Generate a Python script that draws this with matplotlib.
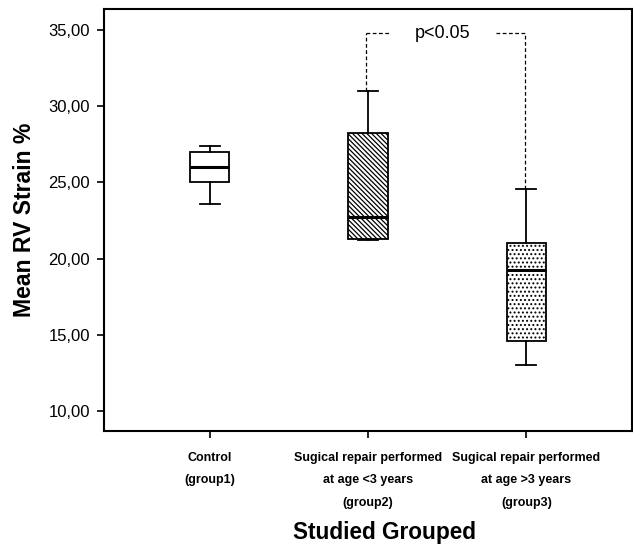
import matplotlib
matplotlib.use("Agg")
import matplotlib.pyplot as plt

plt.rcParams['font.family'] = ['Liberation Sans', 'DejaVu Sans']
plt.rcParams['hatch.linewidth'] = 0.9

groups = ["Control\n(group1)",
          "Sugical repair performed\nat age <3 years\n(group2)",
          "Sugical repair performed\nat age >3 years\n(group3)"]
whis_lo = [23.55, 21.23, 13.0]
q1 = [25.0, 21.3, 14.6]
median = [25.99, 22.72, 19.26]
q3 = [26.97, 28.27, 21.03]
whis_hi = [27.37, 31.0, 24.58]
hatches = ["", "\\" * 7, "...."]
yticks = [10, 15, 20, 25, 30, 35]
bracket_y = 34.8
p_text = "p<0.05"

fig = plt.figure(figsize=(6.33, 5.45), dpi=100)
ax = fig.add_axes([104/633, (545-431)/545, (632-104)/633, (431-9)/545])

positions = [1, 2, 3]
stats = []
for i in range(3):
    stats.append(dict(whislo=whis_lo[i], q1=q1[i], med=median[i], q3=q3[i],
                      whishi=whis_hi[i], fliers=[], label=groups[i]))

bp = ax.bxp(stats, positions=positions, widths=0.25, patch_artist=True,
            showfliers=False,
            boxprops=dict(facecolor='white', edgecolor='black', linewidth=1.3),
            medianprops=dict(color='black', linewidth=2.2),
            whiskerprops=dict(color='black', linewidth=1.3),
            capprops=dict(color='black', linewidth=1.3),
            capwidths=0.125)
for patch, h in zip(bp['boxes'], hatches):
    patch.set_hatch(h)

# significance bracket
ax.plot([1.99, 1.99], [whis_hi[1], bracket_y], ls=(0, (3, 2)), color='black', lw=0.9)
ax.plot([1.99, 2.13], [bracket_y, bracket_y], ls=(0, (3, 2)), color='black', lw=0.9)
ax.plot([2.81, 2.99], [bracket_y, bracket_y], ls=(0, (3, 2)), color='black', lw=0.9)
ax.plot([2.99, 2.99], [whis_hi[2], bracket_y], ls=(0, (3, 2)), color='black', lw=0.9)
ax.text(2.47, bracket_y, p_text, ha='center', va='center', fontsize=13)

ax.set_xlim(0.333, 3.667)
ax.set_ylim(8.68, 36.38)
ax.set_yticks(yticks)
ax.set_yticklabels([f"{v:.2f}".replace('.', ',') for v in yticks], fontsize=12)
ax.set_xticks(positions)
ax.set_xticklabels(groups, fontsize=9, fontweight='bold', linespacing=2.15, va='top')
ax.tick_params(axis='both', direction='out', length=5, width=1.2, pad=5)
ax.tick_params(axis='x', pad=10)
for s in ax.spines.values():
    s.set_linewidth(1.5)

ax.set_ylabel("Mean RV Strain %", fontsize=16.6, fontweight='bold', labelpad=9)
fig.text(384/633, 1 - 533/545, "Studied Grouped", fontsize=16.3, fontweight='bold',
         ha='center', va='center')

fig.savefig("out.png", dpi=100)
